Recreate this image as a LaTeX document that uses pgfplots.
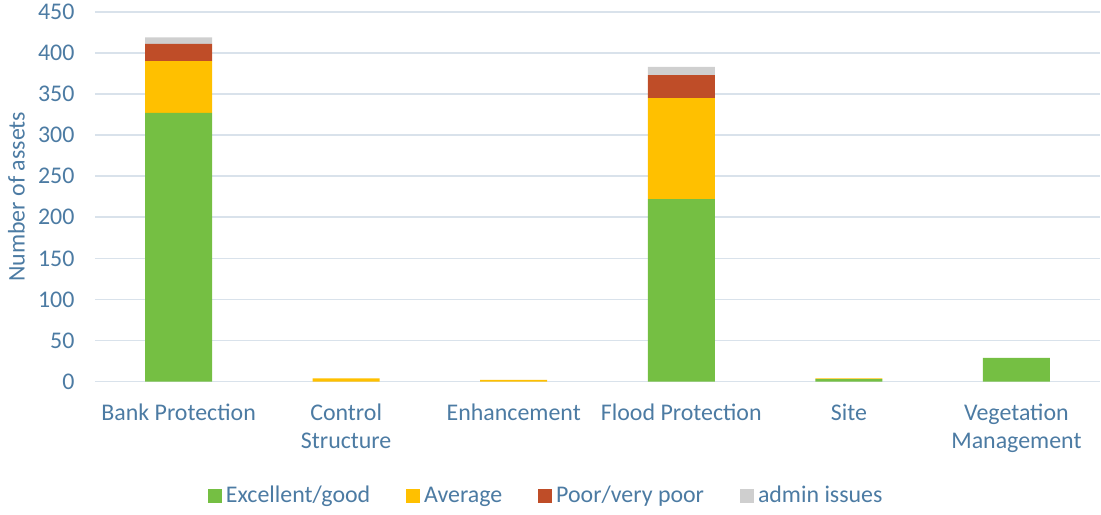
\documentclass[border=0pt]{standalone}
\usepackage{fontspec}
\setmainfont{Carlito}
\usepackage{pgfplots}
\pgfplotsset{compat=1.18}

\definecolor{cgood}{HTML}{75BF43}
\definecolor{cavg}{HTML}{FFC000}
\definecolor{cpoor}{HTML}{BF4D28}
\definecolor{cadmin}{HTML}{CFCFCF}
\definecolor{ctext}{HTML}{4C7BA3}
\definecolor{cgrid}{HTML}{D9E2EB}

\begin{document}
\fontsize{12}{14.5}\selectfont
\begin{tikzpicture}
\begin{axis}[
	ybar stacked,
	scale only axis,
	width=503bp, height=185bp,
	bar width=33.5bp,
	ymin=0, ymax=450,
	xmin=-0.5, xmax=5.5,
	ytick={0,50,...,450},
	xtick=data,
	xticklabels={Bank Protection, Control\\Structure, Enhancement, Flood Protection, Site, Vegetation\\Management},
	xticklabel style={align=center, text=ctext, font=\fontsize{12}{14}\selectfont, yshift=-7bp},
	yticklabel style={text=ctext, inner xsep=0.5bp, inner ysep=2bp, xshift=-9.5bp},
	/pgf/number format/assume math mode=true,
	ylabel={Number of assets},
	ylabel style={text=ctext, font=\fontsize{12}{14}\selectfont, yshift=2bp},
	ymajorgrids,
	grid style={cgrid, line width=0.8pt},
	axis line style={draw=none},
	major tick style={draw=none},
	legend columns=4,
	legend style={draw=none, at={(0.45,-0.31)}, anchor=center, text=ctext,
		font=\fontsize{12}{14}\selectfont,
		/tikz/every even column/.append style={column sep=16bp}},
	legend image code/.code={\fill[#1] (0bp,-3.5bp) rectangle (7bp,3.5bp);},
]
% Excellent/good
\addplot [fill=cgood, draw=none] coordinates {(0,327) (1,0) (2,0) (3,222) (4,3) (5,29)};
% Average
\addplot [fill=cavg, draw=none] coordinates {(0,63) (1,4) (2,2) (3,123) (4,1) (5,0)};
% Poor/very poor
\addplot [fill=cpoor, draw=none] coordinates {(0,21) (1,0) (2,0) (3,28) (4,0) (5,0)};
% admin issues
\addplot [fill=cadmin, draw=none] coordinates {(0,8) (1,0) (2,0) (3,10) (4,0) (5,0)};
\legend{Excellent/good, Average, Poor/very poor, admin issues}
\end{axis}
\end{tikzpicture}
\end{document}
